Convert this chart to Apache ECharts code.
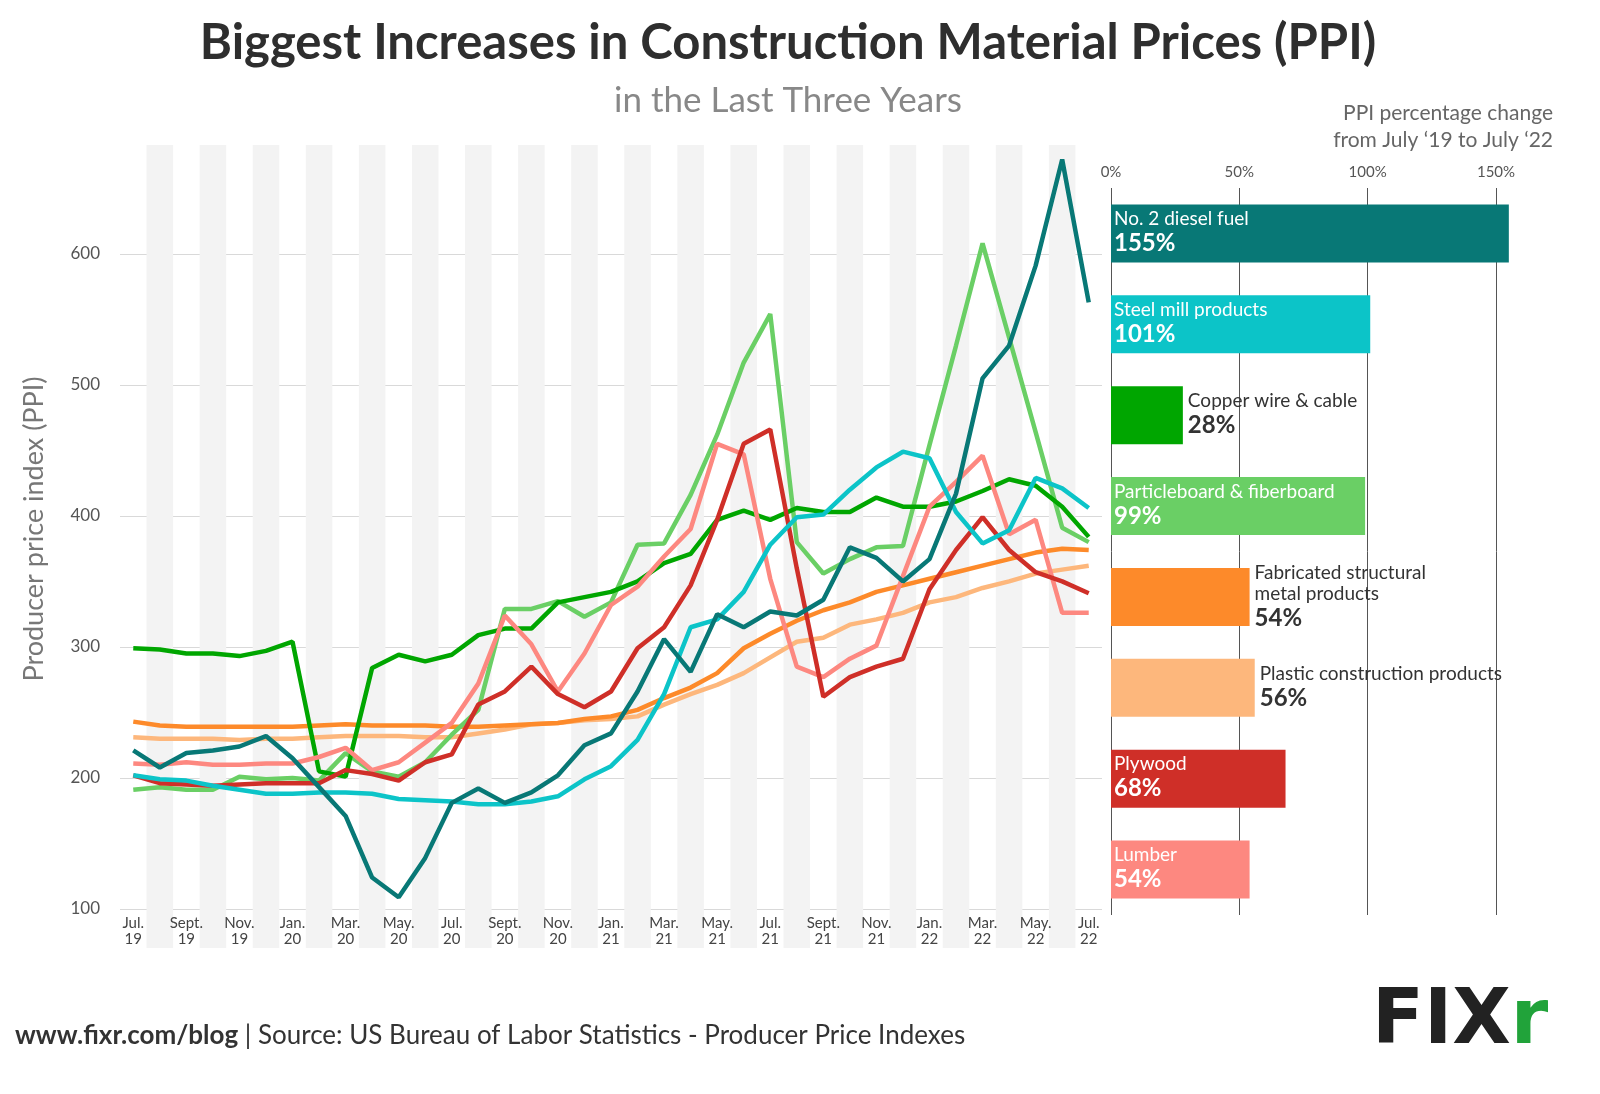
<!DOCTYPE html>
<html>
<head>
<meta charset="utf-8">
<script src="https://cdn.jsdelivr.net/npm/echarts@6/dist/echarts.min.js"></script>
<style>
  html, body { margin: 0; padding: 0; background: #fff; }
  #chart { width: 1600px; height: 1094px; }
</style>
</head>
<body>
<div id="chart"></div>
<script>
// months Jul 19 .. Jul 22
var months = ['Jul.\n19','Aug.\n19','Sept.\n19','Oct.\n19','Nov.\n19','Dec.\n19',
  'Jan.\n20','Feb.\n20','Mar.\n20','Apr.\n20','May.\n20','Jun.\n20',
  'Jul.\n20','Aug.\n20','Sept.\n20','Oct.\n20','Nov.\n20','Dec.\n20',
  'Jan.\n21','Feb.\n21','Mar.\n21','Apr.\n21','May.\n21','Jun.\n21',
  'Jul.\n21','Aug.\n21','Sept.\n21','Oct.\n21','Nov.\n21','Dec.\n21',
  'Jan.\n22','Feb.\n22','Mar.\n22','Apr.\n22','May.\n22','Jun.\n22','Jul.\n22'];

var diesel = [221,208,219,221,224,232,215,193,171,124,109,139,181,
  192,181,189,202,225,234,266,306,281,325,315,327,
  324,336,376,368,350,367,417,505,530,591,672,563];
var steel = [202,199,198,194,191,188,188,189,189,188,184,183,182,
  180,180,182,186,199,209,229,264,315,321,342,378,
  399,401,420,437,449,444,403,379,389,429,421,406];
var copper = [299,298,295,295,293,297,304,205,201,284,294,289,294,
  309,314,314,334,338,342,350,364,371,397,404,397,
  406,403,403,414,407,407,411,419,428,423,407,384];
var particle = [191,193,191,191,201,199,200,198,219,205,201,212,233,
  252,329,329,335,323,334,378,379,416,462,517,554,
  380,356,367,376,377,454,530,608,536,464,391,380];
var fabricated = [243,240,239,239,239,239,239,240,241,240,240,240,239,
  239,240,241,242,245,247,252,261,269,280,299,310,
  320,328,334,342,347,352,357,362,367,372,375,374];
var plastic = [231,230,230,230,229,230,230,231,232,232,232,231,231,
  234,237,241,242,244,245,247,256,264,271,280,292,
  304,307,317,321,326,334,338,345,350,356,359,362];
var plywood = [202,196,195,194,195,196,196,196,206,203,198,212,218,
  256,266,285,264,254,266,299,315,347,397,455,466,
  360,262,277,285,291,344,374,399,374,357,350,341];
var lumber = [211,210,212,210,210,211,211,216,223,206,212,227,242,
  272,324,302,266,295,332,346,369,390,455,447,352,
  285,277,291,301,354,407,426,446,386,397,326,326];

var barNames = ['No. 2 diesel fuel','Steel mill products','Copper wire & cable','Particleboard & fiberboard',
  'Fabricated structural\nmetal products','Plastic construction products','Plywood','Lumber'];
var barValues = [155,101,28,99,54,56,68,54];
var barInside = [true,true,false,true,false,false,true,true];
var colors = ['#087876','#0cc4c8','#00a600','#6acf65','#fd8a2a','#fdb77c','#cf2f28','#fd8880'];

var lineData = [diesel, steel, copper, particle, fabricated, plastic, plywood, lumber];
var drawOrder = [5,4,3,2,7,6,1,0];

var myChart = echarts.init(document.getElementById('chart'));

var series = [{
  type: 'bar', xAxisIndex: 2, yAxisIndex: 2, silent: true,
  data: months.map(function(m, i){ return i % 2 ? 1 : 0 }),
  barWidth: '100%', itemStyle: { color: '#f3f3f3' }, z: 0
}];
drawOrder.forEach(function(k){
  series.push({
    type: 'line', xAxisIndex: 0, yAxisIndex: 0, data: lineData[k],
    symbol: 'none', lineStyle: { width: 4.5, color: colors[k] }, z: 3
  });
});
series.push({
  type: 'bar', xAxisIndex: 1, yAxisIndex: 1, clip: false, barWidth: 58,
  data: barValues.map(function(v, i){
    var inside = barInside[i];
    return {
      value: v,
      itemStyle: { color: colors[i] },
      label: {
        show: true,
        position: inside ? 'insideTopLeft' : 'right',
        offset: inside ? [-2, -1] : [0, 0],
        formatter: '{n|' + barNames[i] + '}\n{p|' + v + '%}',
        rich: {
          n: { fontFamily: 'Lato', fontSize: 19, color: inside ? '#fff' : '#333', lineHeight: 21 },
          p: { fontFamily: 'Lato', fontSize: 24, fontWeight: 'bold', color: inside ? '#fff' : '#333', lineHeight: 28 }
        }
      }
    };
  }),
  z: 3
});

var option = {
  animation: false,
  title: [{
    text: 'Biggest Increases in Construction Material Prices (PPI)',
    left: 783, top: 14, textAlign: 'center',
    textStyle: { fontFamily: 'Lato', fontSize: 49, fontWeight: 'bold', color: '#2e2e2e' }
  }, {
    text: 'in the Last Three Years',
    left: 783, top: 78, textAlign: 'center',
    textStyle: { fontFamily: 'Lato', fontSize: 35, fontWeight: 'normal', color: '#888' }
  }],
  graphic: [{
    type: 'text', right: 47, top: 100,
    style: { text: 'PPI percentage change\nfrom July ‘19 to July ‘22', textAlign: 'right',
      font: '21px Lato', fill: '#666', lineHeight: 27 }
  }, {
    type: 'text', left: 15, top: 1023,
    style: { text: '{b|www.fixr.com/blog} | Source: US Bureau of Labor Statistics - Producer Price Indexes',
      font: '26px Lato', fill: '#333',
      rich: { b: { font: 'bold 26px Lato', fill: '#333' } } }
  }, {
    type: 'text', left: 1372, top: 985,
    style: { text: '{f|FIX}{r|r}', rich: {
      f: { font: '900 76px "DejaVu Sans"', fill: '#222' },
      r: { font: '900 76px "DejaVu Sans"', fill: '#21a33a' } } }
  }],
  grid: [
    { left: 120, right: 498, top: 149, bottom: 185 },
    { left: 1111, right: 104, top: 188, bottom: 1094 - 915 },
    { left: 120, right: 498, top: 145, bottom: 146 }
  ],
  xAxis: [{
    gridIndex: 0, type: 'category', data: months, boundaryGap: true,
    axisLine: { show: false }, axisTick: { show: false },
    axisLabel: { interval: 1, fontFamily: 'Lato', fontSize: 15, color: '#444', lineHeight: 16, margin: 6 }
  }, {
    gridIndex: 1, type: 'value', min: 0, max: 150, interval: 50, position: 'top',
    axisLine: { show: false }, axisTick: { show: false },
    axisLabel: { formatter: '{value}%', fontFamily: 'Lato', fontSize: 15, color: '#555', margin: 8 },
    splitLine: { lineStyle: { color: '#555', width: 1 } }
  }, {
    gridIndex: 2, type: 'category', data: months, boundaryGap: true, show: false
  }],
  yAxis: [{
    gridIndex: 0, type: 'value', min: 100, max: 680, interval: 100,
    name: 'Producer price index (PPI)', nameLocation: 'middle', nameGap: 72,
    nameTextStyle: { fontFamily: 'Lato', fontSize: 27, color: '#777' },
    axisLine: { show: false }, axisTick: { show: false },
    axisLabel: { showMaxLabel: false, fontFamily: 'Lato', fontSize: 17, color: '#555', margin: 20 },
    splitLine: { showMaxLine: false, lineStyle: { color: '#d9d9d9' } }
  }, {
    gridIndex: 1, type: 'category', data: barNames, inverse: true, show: false
  }, {
    gridIndex: 2, type: 'value', min: 0, max: 1, show: false
  }],
  series: series
};

myChart.setOption(option);
</script>
</body>
</html>
